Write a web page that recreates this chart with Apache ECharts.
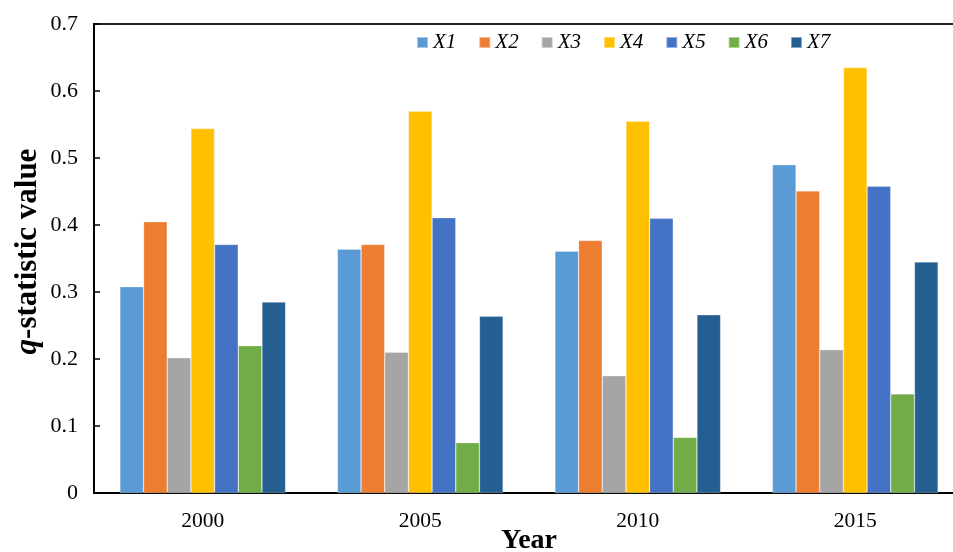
<!DOCTYPE html>
<html>
<head>
<meta charset="utf-8">
<script src="https://cdn.jsdelivr.net/npm/echarts@6/dist/echarts.min.js"></script>
<style>html,body{margin:0;padding:0;background:#fff;}#c{width:953px;height:552px;}</style>
</head>
<body>
<div id="c"></div>
<script>
const years = ['2000', '2005', '2010', '2015'];
const seriesNames = ['X1', 'X2', 'X3', 'X4', 'X5', 'X6', 'X7'];
const X1 = [0.308, 0.364, 0.361, 0.490];
const X2 = [0.405, 0.371, 0.377, 0.451];
const X3 = [0.202, 0.210, 0.175, 0.214];
const X4 = [0.544, 0.570, 0.555, 0.635];
const X5 = [0.371, 0.411, 0.410, 0.458];
const X6 = [0.220, 0.075, 0.083, 0.148];
const X7 = [0.285, 0.264, 0.266, 0.345];
const colors = ['#5B9BD5', '#ED7D31', '#A5A5A5', '#FFC000', '#4472C4', '#70AD47', '#255E91'];
const values = [X1, X2, X3, X4, X5, X6, X7];
const serif = '"Liberation Serif", "Times New Roman", serif';

const chart = echarts.init(document.getElementById('c'));
chart.setOption({
  animation: false,
  color: colors,
  grid: { left: 94, top: 24, width: 870, height: 469, show: true, borderColor: '#222', borderWidth: 2, containLabel: false, outerBoundsMode: 'none' },
  legend: {
    left: 411, top: 27, itemWidth: 11, itemHeight: 11, itemGap: 22,
    icon: 'rect',
    textStyle: { fontFamily: serif, fontStyle: 'italic', fontSize: 21, color: '#000' },
    data: seriesNames
  },
  xAxis: {
    type: 'category', data: years,
    name: 'Year', nameLocation: 'middle', nameGap: 34, nameMoveOverlap: false,
    nameTextStyle: { fontFamily: serif, fontWeight: 'bold', fontSize: 28, color: '#000' },
    axisLine: { lineStyle: { color: '#000', width: 2 } },
    axisTick: { inside: true, length: 6, lineStyle: { color: '#000', width: 1.5 } },
    axisLabel: { fontFamily: serif, fontSize: 21.5, color: '#000', margin: 17 },
    splitLine: { show: false }
  },
  yAxis: {
    type: 'value', min: 0, max: 0.7, interval: 0.1,
    name: '{i|q}-statistic value', nameLocation: 'middle', nameGap: 51, nameMoveOverlap: false,
    nameTextStyle: {
      fontFamily: serif, fontWeight: 'bold', fontSize: 31, color: '#000',
      padding: [0, 0, 0, 14],
      rich: { i: { fontFamily: serif, fontWeight: 'bold', fontStyle: 'italic', fontSize: 31, color: '#000' } }
    },
    axisLine: { show: true, lineStyle: { color: '#000', width: 2 } },
    axisTick: { show: true, inside: true, length: 6, lineStyle: { color: '#000', width: 1.5 } },
    axisLabel: { fontFamily: serif, fontSize: 22, color: '#000', margin: 16 },
    splitLine: { show: false }
  },
  series: seriesNames.map((n, i) => ({
    name: n, type: 'bar', data: values[i],
    barGap: '0%', barCategoryGap: '23.8%',
    itemStyle: { color: colors[i], borderColor: 'rgba(255,255,255,0.45)', borderWidth: 0.6 }
  }))
});
</script>
</body>
</html>
